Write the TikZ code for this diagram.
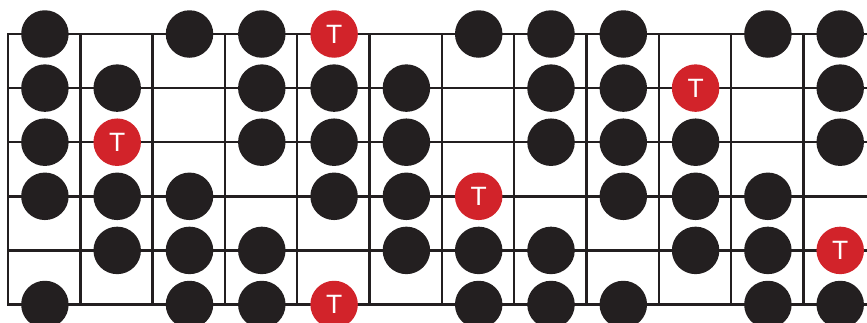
\documentclass[tikz,border=0pt]{standalone}
\usepackage{fontspec}
\setmainfont{Liberation Sans}
\definecolor{ink}{HTML}{231F20}
\definecolor{tonic}{HTML}{D2232A}
\begin{document}
\begin{tikzpicture}[x=1pt,y=-1pt,
  fretline/.style={draw=ink,line width=2.4pt,line cap=rect},
  note/.style={circle,fill=ink,minimum size=47.5pt,inner sep=0pt},
  root/.style={circle,fill=tonic,minimum size=47.5pt,inner sep=0pt,text=white,font=\fontsize{26.5}{26.5}\selectfont}]
\useasboundingbox (0,0) rectangle (867,322);
% strings
\foreach \s in {0,...,5}{
  \coordinate (sL\s) at (8,34+54.1*\s);
  \coordinate (sR\s) at (868,34+54.1*\s);
  \draw[fretline] (sL\s) -- (sR\s);
}
% frets
\foreach \f in {0,...,11}{
  \coordinate (fT\f) at (8+72.3*\f,34);
  \coordinate (fB\f) at (8+72.3*\f,304.5);
  \draw[fretline] (fT\f) -- (fB\f);
}
% black notes
\foreach \r/\cols in {0/{0,2,3,6,7,8,10,11},1/{0,1,3,4,5,7,8,11},2/{0,3,4,5,7,8,9,11},3/{0,1,2,4,5,8,9,10},4/{1,2,3,5,6,7,9,10},5/{0,2,3,6,7,8,10,11}}{
  \foreach \c in \cols{
    \node[note] (n-\r-\c) at (44.9+72.3*\c,34+54.1*\r) {};
  }
}
% tonic notes
\foreach \r/\c in {0/4,1/9,2/1,3/6,4/11,5/4}{
  \node[root] (t-\r) at (44.9+72.3*\c,34+54.1*\r) {T};
}
\end{tikzpicture}
\end{document}
